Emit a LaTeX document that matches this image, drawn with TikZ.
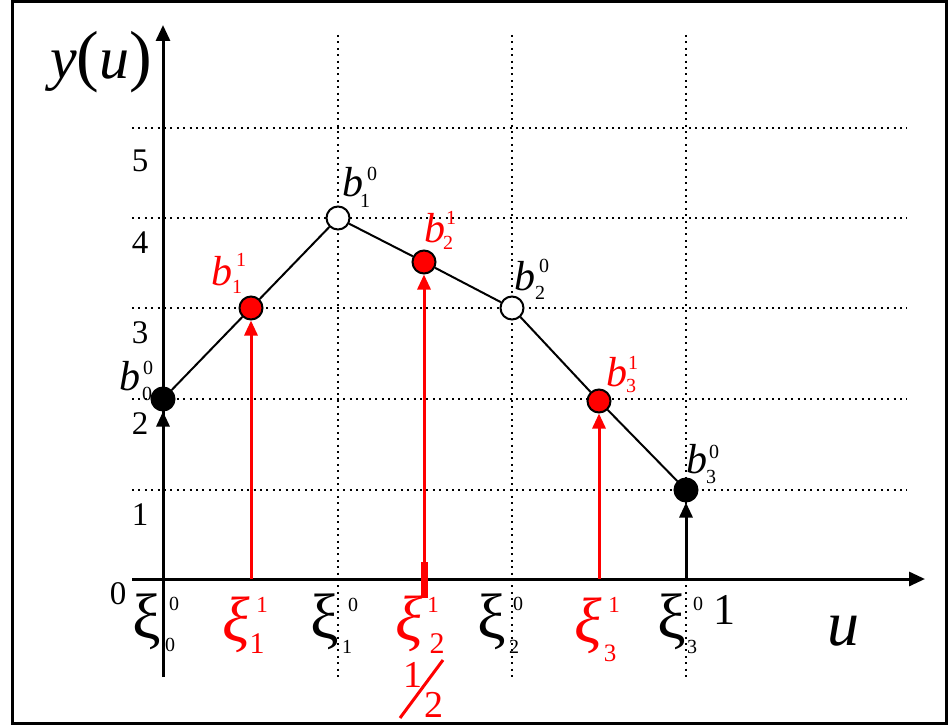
\documentclass[tikz,border=0pt]{standalone}
\usepackage{fontspec}
\setmainfont{Liberation Serif}
\usetikzlibrary{arrows.meta}
\definecolor{pred}{RGB}{255,0,0}
\newcommand\fs[1]{\fontsize{#1}{#1}\selectfont}
\tikzset{
  gridline/.style={line width=2pt, dash pattern=on 2pt off 4.4pt},
  axisline/.style={line width=3pt, -{Triangle[length=16pt,width=14pt]}},
  conn/.style={line width=2pt},
  redarrow/.style={pred, line width=3pt, -{Triangle[length=15pt,width=13pt]}},
  blackarrow/.style={black, line width=3pt, -{Triangle[length=15pt,width=13pt]}},
  pt/.style={circle, draw=black, line width=2pt, minimum size=23pt, inner sep=0pt},
  lab/.style={inner sep=0pt, outer sep=0pt},
  big/.style={lab, font=\fs{42}\itshape},
  small/.style={lab, font=\fs{20}},
  xib/.style={lab, font=\fs{64}},
  xir/.style={lab, font=\fs{64}\itshape},
}
\begin{document}
\begin{tikzpicture}[x=1pt,y=-1pt]
\useasboundingbox (0,0) rectangle (950,725);
\draw[line width=3pt] (12.5,2) rectangle (946.5,723);
% grid
\foreach \yy in {128,218,308,399,490}
  \draw[gridline] (132,\yy) -- (907,\yy);
\foreach \xx in {338,512,686}
  \draw[gridline] (\xx,35) -- (\xx,677);
% axes
\coordinate (ybot) at (163,677);
\coordinate (ytop) at (163,25);
\coordinate (xl) at (132,579);
\coordinate (xr) at (925,579);
\draw[axisline] (ybot) -- (ytop);
\draw[axisline] (xl) -- (xr);
% points
\node[pt, fill=black] (p0) at (163,399) {};
\node[pt, fill=pred]  (p1) at (251,308) {};
\node[pt, fill=white] (p2) at (338,218) {};
\node[pt, fill=pred]  (p3) at (424,262) {};
\node[pt, fill=white] (p4) at (512,308) {};
\node[pt, fill=pred]  (p5) at (599,401) {};
\node[pt, fill=black] (p6) at (686,490) {};
\draw[conn] (p0) -- (p1) -- (p2) -- (p3) -- (p4) -- (p5) -- (p6);
% arrows
\coordinate (a0) at (163,579);
\coordinate (a1) at (251,579);
\coordinate (a3) at (424,598);
\coordinate (a3t) at (424,562);
\coordinate (a5) at (599,579);
\coordinate (a6) at (686,579);
\draw[pred, line width=7pt] (a3) -- (a3t);
\draw[blackarrow] (a0) -- (p0);
\draw[redarrow] (a1) -- (p1);
\draw[redarrow] (a3) -- (p3);
\draw[redarrow] (a5) -- (p5);
\draw[blackarrow] (a6) -- (p6);
% axis labels
\node[lab, font=\fs{60}] (ylab) at (101,62) {\textit{y}{\fs{68}(}\textit{u}{\fs{68})}};
\node[lab, font=\fs{64}\itshape] (ulab) at (843,631) {u};
\node[lab, font=\fs{33}] (zero) at (118,594) {0};
\node[lab, font=\fs{44}] (one) at (724,610) {1};
\node[lab, font=\fs{33}] (t1) at (140,515) {1};
\node[lab, font=\fs{33}] (t2) at (140,424) {2};
\node[lab, font=\fs{33}] (t3) at (140,333) {3};
\node[lab, font=\fs{33}] (t4) at (140,243) {4};
\node[lab, font=\fs{33}] (t5) at (140,161) {5};
% xi labels black
\node[xib] (x0) at (147,622) {ξ};
\node[small] (x0s) at (174,604) {0};
\node[small] (x0u) at (170,645) {0};
\node[xib] (x2) at (325,622) {ξ};
\node[small] (x2s) at (353,605) {0};
\node[small] (x2u) at (347,647) {1};
\node[xib] (x4) at (492,622) {ξ};
\node[small] (x4s) at (518,604) {0};
\node[small] (x4u) at (514,647) {2};
\node[xib] (x6) at (672,622) {ξ};
\node[small] (x6s) at (698,604) {0};
\node[small] (x6u) at (692,647) {3};
% xi labels red
\begin{scope}[pred]
\node[xir] (x1) at (236,625) {ξ};
\node[lab, font=\fs{23}] (x1s) at (262,605) {1};
\node[lab, font=\fs{30}] (x1u) at (257,644) {1};
\node[xir] (x3) at (409,624) {ξ};
\node[lab, font=\fs{23}] (x3s) at (433,605) {1};
\node[lab, font=\fs{30}] (x3u) at (437,644) {2};
\node[xir] (x5) at (588,626) {ξ};
\node[lab, font=\fs{23}] (x5s) at (614,605) {1};
\node[lab, font=\fs{25}] (x5u) at (610,653) {3};
\node[lab, font=\fs{38}] (hn) at (413,675) {1};
\node[lab, font=\fs{38}] (hd) at (434,705) {2};
\coordinate (sl0) at (400,718);
\coordinate (sl1) at (443,660);
\draw[line width=3pt] (sl0) -- (sl1);
\end{scope}
% b labels black
\node[big] (b0) at (130,376) {b};
\node[small] (b0s) at (148,368) {0};
\node[small] (b0u) at (147,394) {0};
\node[big] (b2) at (353,182) {b};
\node[small] (b2s) at (372,174) {0};
\node[small] (b2u) at (365,201) {1};
\node[big] (b4) at (525,276) {b};
\node[small] (b4s) at (544,266) {0};
\node[small] (b4u) at (540,293) {2};
\node[big] (b6) at (697,459) {b};
\node[small] (b6s) at (714,452) {0};
\node[small] (b6u) at (711,477) {3};
% b labels red
\begin{scope}[pred]
\node[big] (b1) at (222,271) {b};
\node[small] (b1s) at (241,260) {1};
\node[small] (b1u) at (237,287) {1};
\node[big] (b3) at (435,228) {b};
\node[small] (b3s) at (451,218) {1};
\node[small] (b3u) at (448,243) {2};
\node[big] (b5) at (617,372) {b};
\node[small] (b5s) at (633,363) {1};
\node[small] (b5u) at (631,386) {3};
\end{scope}
\end{tikzpicture}
\end{document}
